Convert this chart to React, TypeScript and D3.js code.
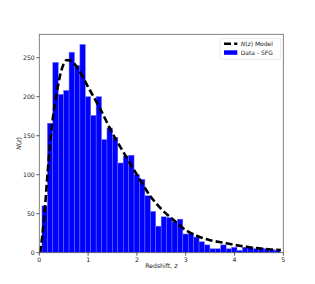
import React from 'react'
import * as d3 from 'd3'

// histogram: bins of equal width starting at binStart
const binStart = 0.055
const binWidth = 0.111
const counts = [
  60, 166, 244, 203, 208, 257, 240, 267, 200, 176,
  200, 145, 160, 148, 115, 124, 125, 100, 94, 73,
  53, 34, 46, 45, 40, 43, 24, 25, 20, 14,
  10, 5, 5, 10, 5, 7, 3, 7, 7, 5,
  6, 5, 4, 3,
]

// N(z) model curve
const modelZ = [0.02, 0.1, 0.17, 0.25, 0.31, 0.38, 0.44, 0.5, 0.56, 0.65, 0.75, 0.85, 0.96, 1.04, 1.25, 1.5, 1.75, 2.0, 2.27, 2.5, 2.75, 3.0, 3.25, 3.5, 3.75, 4.0, 4.25, 4.5, 4.75, 4.95]
const modelN = [0, 45, 102, 158, 187, 213, 231, 242, 247, 246, 240, 230, 217, 208, 184, 153, 126, 100, 73, 56, 42, 29, 21, 16, 13, 10, 7.5, 5.5, 4.2, 3.5]

const xTicks = [0, 1, 2, 3, 4, 5]
const yTicks = [0, 50, 100, 150, 200, 250]

const W = 315
const H = 284
const left = 39.3, right = 283.3, top = 34.3, bottom = 252.7
const font = 'DejaVu Sans, sans-serif'

export default function App() {
  const x = d3.scaleLinear().domain([0, 5]).range([left, right])
  const y = d3.scaleLinear().domain([0, 280]).range([bottom, top])

  const line = d3.line<number>()
    .x((_, i) => x(modelZ[i]))
    .y(d => y(d))
    .curve(d3.curveMonotoneX)

  return (
    <svg width={W} height={H} style={{ position: 'absolute', left: 0, top: 0, background: '#fff' }}
      fontFamily={font}>
      {counts.map((c, i) => {
        const x0 = x(binStart + i * binWidth)
        const x1 = x(binStart + (i + 1) * binWidth)
        return <rect key={i} x={x0} y={y(c)} width={x1 - x0} height={y(0) - y(c)}
          fill="#0000ff" stroke="#6f6fff" strokeWidth={0.5} />
      })}
      <path d={line(modelN) || ''} fill="none" stroke="#000" strokeWidth={2.6}
        strokeDasharray="7,3.2" />

      <rect x={left} y={top} width={right - left} height={bottom - top} fill="none" stroke="#666" strokeWidth={0.8} />

      {xTicks.map(t => (
        <g key={t} transform={`translate(${x(t)},${bottom})`}>
          <line y2={3} stroke="#333" strokeWidth={0.8} />
          <text y={9.5} textAnchor="middle" fontSize={6.2} fill="#222">{t}</text>
        </g>
      ))}
      {yTicks.map(t => (
        <g key={t} transform={`translate(${left},${y(t)})`}>
          <line x2={-3} stroke="#333" strokeWidth={0.8} />
          <text x={-4.5} dy="0.35em" textAnchor="end" fontSize={6.2} fill="#222">{t}</text>
        </g>
      ))}

      <text x={(left + right) / 2} y={268} textAnchor="middle" fontSize={6.2} fill="#222">
        Redshift, <tspan fontStyle="italic">z</tspan>
      </text>
      <text transform={`translate(21,${(top + bottom) / 2}) rotate(-90)`} textAnchor="middle" fontSize={6.2} fill="#222">
        <tspan fontStyle="italic">N</tspan>(<tspan fontStyle="italic">z</tspan>)
      </text>

      <g transform="translate(220,38.3)">
        <rect width={60.5} height={21} rx={1.5} fill="#fff" stroke="#ddd" strokeWidth={0.6} />
        <line x1={4} x2={17.3} y1={5.5} y2={5.5} stroke="#000" strokeWidth={2.6} strokeDasharray="7,3.2" />
        <text x={20.7} y={5.5} dy="0.35em" fontSize={6} fill="#222">
          <tspan fontStyle="italic">N</tspan>(<tspan fontStyle="italic">z</tspan>) Model
        </text>
        <rect x={4} y={12} width={13.3} height={4.5} fill="#0000ff" />
        <text x={20.7} y={14.3} dy="0.35em" fontSize={6} fill="#222">Data - SFG</text>
      </g>
    </svg>
  )
}
